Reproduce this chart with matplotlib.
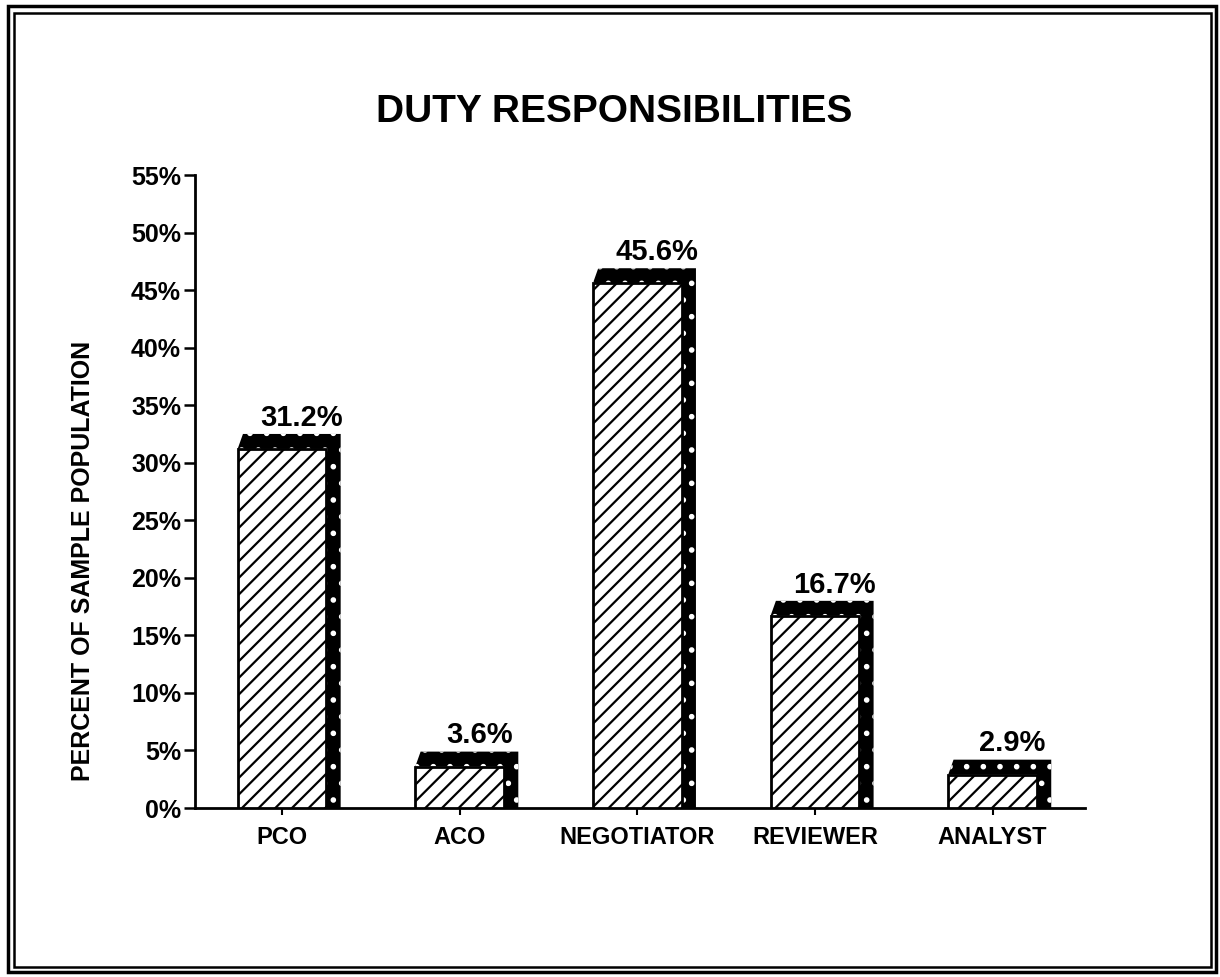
import matplotlib
matplotlib.use("Agg")
import matplotlib.pyplot as plt
from matplotlib.patches import Polygon, Rectangle

categories = ["PCO", "ACO", "NEGOTIATOR", "REVIEWER", "ANALYST"]
values = [31.2, 3.6, 45.6, 16.7, 2.9]
value_labels = ["31.2%", "3.6%", "45.6%", "16.7%", "2.9%"]
yticks = [0, 5, 10, 15, 20, 25, 30, 35, 40, 45, 50, 55]
ytick_labels = [f"{t}%" for t in yticks]
title = "DUTY RESPONSIBILITIES"
ylabel = "PERCENT OF SAMPLE POPULATION"

plt.rcParams['font.family'] = ['Liberation Sans', 'DejaVu Sans']
plt.rcParams['font.weight'] = 'bold'
plt.rcParams['hatch.linewidth'] = 1.6

fig = plt.figure(figsize=(12.2, 9.77), dpi=100)
ax = fig.add_axes([195/1220, 1-808/977, 890/1220, 633/977])

x = list(range(len(categories)))
width = 0.5
dx, dy = 0.08, 1.3

ax.bar(x, values, width=width, facecolor='white', edgecolor='black',
       hatch='//', linewidth=2.0, zorder=3)

for xi, h, lab in zip(x, values, value_labels):
    x0 = xi - width/2
    x1 = xi + width/2
    # dark extrusion (top and right side) with white stipple
    poly = Polygon([(x0, h), (x0 + 0.03, h + dy), (x1 + dx, h + dy),
                    (x1 + dx, 0), (x1, 0), (x1, h)], closed=True,
                   facecolor='black', edgecolor='white', hatch='.',
                   linewidth=0, zorder=2)
    ax.add_patch(poly)
    ax.text(xi + 0.11, h + dy + 0.2, lab, ha='center', va='bottom',
            fontsize=21, fontweight='bold', zorder=4)

ax.set_xlim(-0.49, 4.52)
ax.set_ylim(0, 55)
ax.set_yticks(yticks)
ax.set_yticklabels(ytick_labels, fontsize=18, fontweight='bold')
ax.set_xticks(x)
ax.set_xticklabels(categories, fontsize=17, fontweight='bold')
ax.tick_params(axis='y', direction='out', length=8, width=1.8, pad=2)
ax.tick_params(axis='x', direction='out', length=5, width=1.5, pad=8)
for s in ['top', 'right']:
    ax.spines[s].set_visible(False)
for s in ['left', 'bottom']:
    ax.spines[s].set_linewidth(2)

fig.text(614/1220, 1-112/977, title, ha='center', va='center',
         fontsize=28, fontweight='bold')
fig.text(83/1220, 1-561/977, ylabel, ha='center', va='center',
         rotation=90, fontsize=18, fontweight='bold')

# double frame
fig.add_artist(Rectangle((8/1220, 1-972/977), 1208/1220, 966/977,
                         transform=fig.transFigure, fill=False,
                         edgecolor='black', linewidth=2.5))
fig.add_artist(Rectangle((14/1220, 1-967/977), 1197/1220, 954/977,
                         transform=fig.transFigure, fill=False,
                         edgecolor='black', linewidth=1.8))

fig.savefig("out.png", dpi=100)
